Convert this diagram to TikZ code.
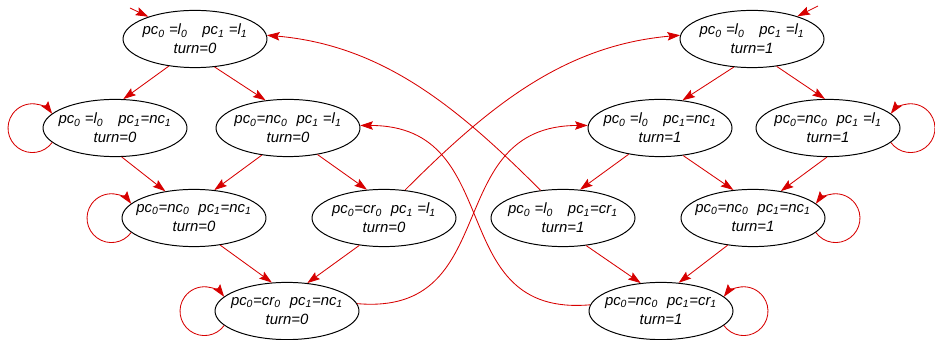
\documentclass[tikz,border=0pt]{standalone}
\usepackage{fontspec}
\setmainfont{Liberation Sans}
\usetikzlibrary{arrows.meta,positioning,shapes.geometric}
\definecolor{edgered}{HTML}{D70000}
\newcommand{\lo}[1]{\textsubscript{#1}}
\newcommand{\gapsep}{\hspace{0.6em}}
\newcommand{\widegap}{\hspace{1em}}
\tikzset{
  state/.style={ellipse, draw=black, line width=0.7pt, minimum width=3.6cm, minimum height=1.43cm, inner xsep=-5pt, inner ysep=0pt, align=center, font=\fontsize{10.6}{13.5}\selectfont\itshape},
  arrow/.style={-{Stealth[length=9pt,width=6pt,inset=1.5pt]}, line width=0.6pt, draw=edgered}
}

\begin{document}
\begin{tikzpicture}[on grid, node distance=2.25cm and 2.3cm]
  \useasboundingbox (0,0) rectangle (23.375,-8.5);
  % turn=0
  \node[state] (ll0) at (4.875,-0.975) {pc\lo{0} =l\lo{0}\widegap pc\lo{1} =l\lo{1}\\turn=0};
  \node[state, below left=2.225cm and 2cm of ll0] (ln0) {pc\lo{0} =l\lo{0}\widegap pc\lo{1}=nc\lo{1}\\turn=0};
  \node[state, below right=2.225cm and 2.325cm of ll0] (nl0) {pc\lo{0}=nc\lo{0}\gapsep pc\lo{1} =l\lo{1}\\turn=0};
  \node[state, below right=2.25cm and 1.975cm of ln0] (nn0) {pc\lo{0}=nc\lo{0}\gapsep pc\lo{1}=nc\lo{1}\\turn=0};
  \node[state, below right=2.25cm and 2.4cm of nl0] (cl0) {pc\lo{0}=cr\lo{0}\gapsep pc\lo{1} =l\lo{1}\\turn=0};
  \node[state, below right=2.325cm and 2.325cm of nn0] (cn0) {pc\lo{0}=cr\lo{0}\gapsep pc\lo{1}=nc\lo{1}\\turn=0};
  % turn=1
  \node[state, right=13.925cm of ll0] (ll1) {pc\lo{0} =l\lo{0}\widegap pc\lo{1} =l\lo{1}\\turn=1};
  \node[state, below left=2.225cm and 2.3cm of ll1] (ln1) {pc\lo{0} =l\lo{0}\widegap pc\lo{1}=nc\lo{1}\\turn=1};
  \node[state, below right=2.225cm and 1.9cm of ll1] (nl1) {pc\lo{0}=nc\lo{0}\gapsep pc\lo{1} =l\lo{1}\\turn=1};
  \node[state, below left=2.25cm and 2.425cm of ln1] (lc1) {pc\lo{0} =l\lo{0}\widegap pc\lo{1}=cr\lo{1}\\turn=1};
  \node[state, below right=2.25cm and 2.325cm of ln1] (nn1) {pc\lo{0}=nc\lo{0}\gapsep pc\lo{1}=nc\lo{1}\\turn=1};
  \node[state, below right=2.325cm and 2.45cm of lc1] (nc1) {pc\lo{0}=nc\lo{0}\gapsep pc\lo{1}=cr\lo{1}\\turn=1};

  \coordinate (start0) at (3.25,-0.2);
  \coordinate (start1) at (20.45,-0.15);
  \draw[arrow] (start0) -- (ll0);
  \draw[arrow] (start1) -- (ll1);

  \draw[arrow] (ll0.226) -- (ln0.74);
  \draw[arrow] (ll0.-55) -- (nl0.129);
  \draw[arrow] (ln0.-77) -- (nn0.137);
  \draw[arrow] (nl0.-134) -- (nn0.54);
  \draw[arrow] (nl0.-42) -- (cl0.121);
  \draw[arrow] (nn0.-46) -- (cn0.118);
  \draw[arrow] (cl0.-132) -- (cn0.54);

  \draw[arrow] (ll1.-123) -- (ln1.51);
  \draw[arrow] (ll1.-48) -- (nl1.96);
  \draw[arrow] (ln1.-140) -- (lc1.59);
  \draw[arrow] (ln1.-50) -- (nn1.125);
  \draw[arrow] (nl1.-92) -- (nn1.44);
  \draw[arrow] (lc1.-50) -- (nc1.126);
  \draw[arrow] (nn1.-133) -- (nc1.58);

  % self loops
  \draw[arrow] (ln0.193) arc[start angle=-36, end angle=-324, radius=0.61cm];
  \draw[arrow] (nn0.193) arc[start angle=-36, end angle=-324, radius=0.61cm];
  \draw[arrow] (cn0.193) arc[start angle=-36, end angle=-324, radius=0.61cm];
  \draw[arrow] (nl1.-13) arc[start angle=-144, end angle=144, radius=0.61cm];
  \draw[arrow] (nn1.-13) arc[start angle=-144, end angle=144, radius=0.61cm];
  \draw[arrow] (nc1.-13) arc[start angle=-144, end angle=144, radius=0.61cm];

  % turn changes
  \draw[arrow] (cl0.53) to[out=45, in=185, looseness=0.95] (ll1.177);
  \draw[arrow] (lc1.129) to[out=135, in=-5, looseness=0.95] (ll0.3);
  \draw[arrow] (cn0.6) to[out=-5, in=180, looseness=1.3] (ln1.178);
  \draw[arrow] (nc1.175) to[out=185, in=0, looseness=1.3] (nl0.2);
\end{tikzpicture}
\end{document}
